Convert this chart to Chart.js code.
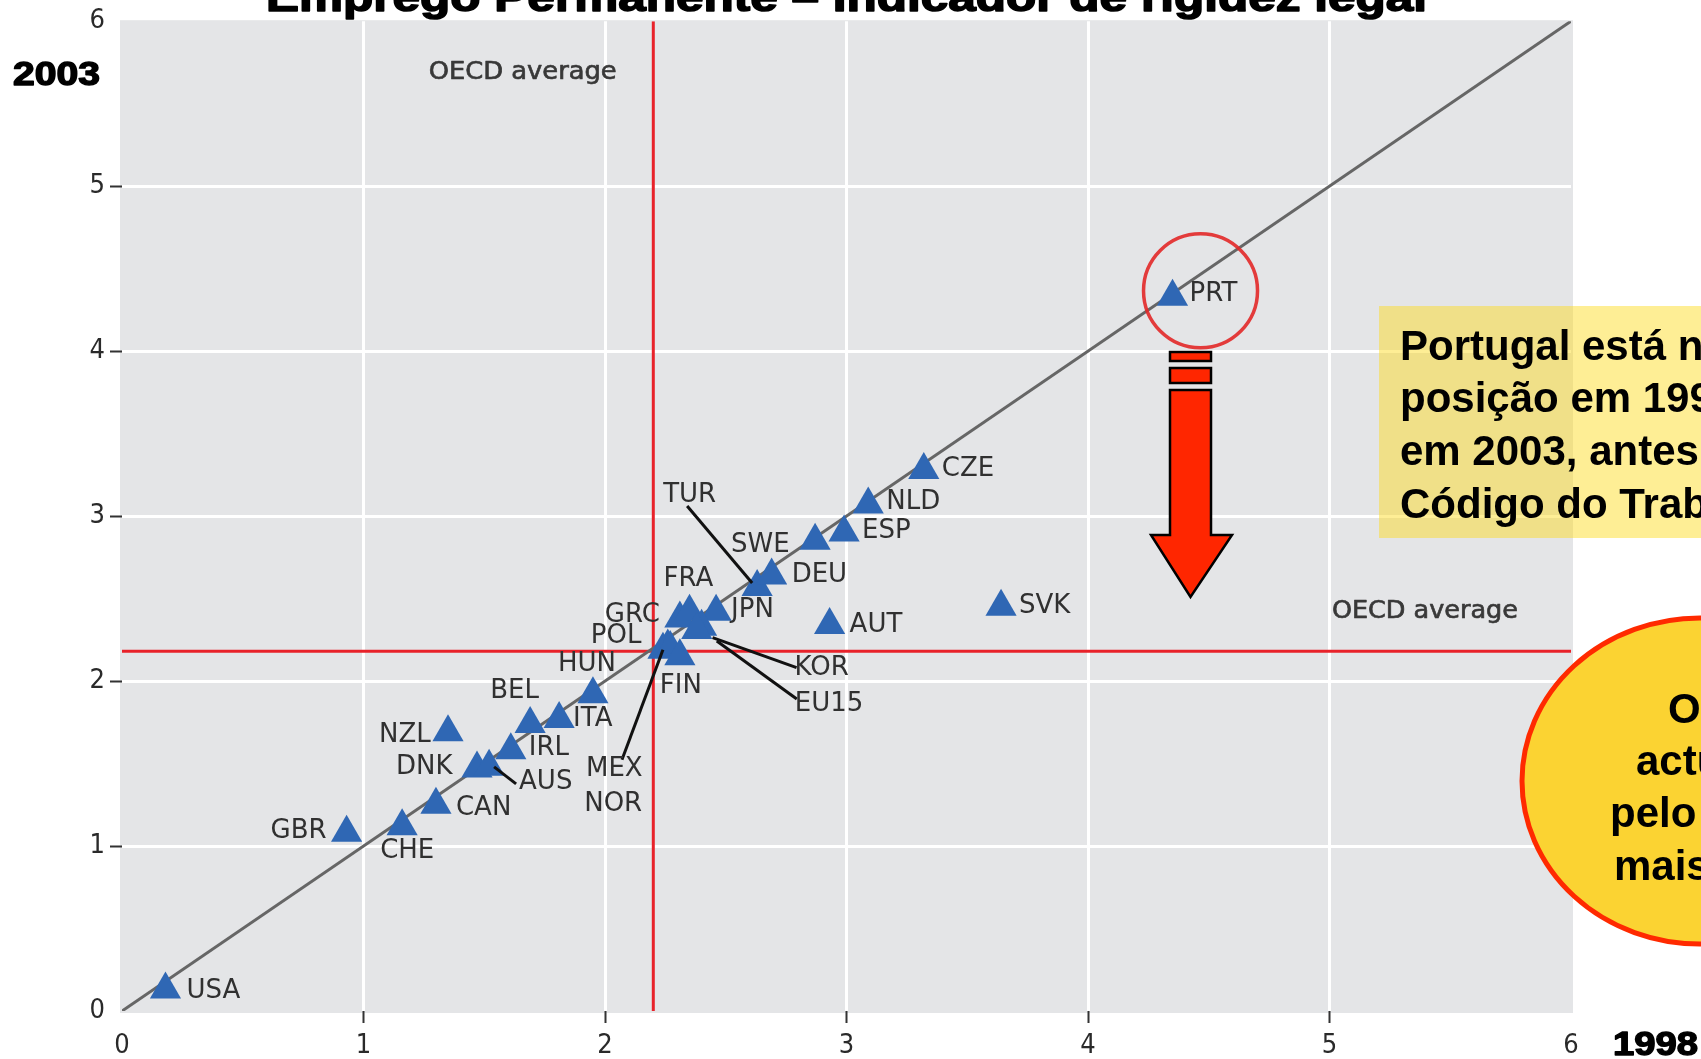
<!DOCTYPE html>
<html lang="pt">
<head>
<meta charset="utf-8">
<title>Emprego Permanente – Indicador de rigidez legal</title>
<script src="https://cdn.jsdelivr.net/npm/chart.js@4.4.1/dist/chart.umd.min.js"></script>
<style>
    html, body { margin: 0; padding: 0; background: #fff; overflow: hidden; }
    #chart { display: block; }
</style>
</head>
<body>
<canvas id="chart" width="1701" height="1059"></canvas>
<script>
// valores (1998 no eixo x, 2003 no eixo y)
const countries = ['USA', 'GBR', 'CHE', 'CAN', 'DNK', 'AUS', 'IRL', 'NZL', 'BEL', 'ITA',
    'HUN', 'POL', 'MEX', 'NOR', 'FIN', 'GRC', 'FRA', 'JPN', 'KOR', 'EU15',
    'TUR', 'DEU', 'SWE', 'ESP', 'NLD', 'CZE', 'AUT', 'SVK', 'PRT'];
const index1998 = [0.18, 0.93, 1.16, 1.30, 1.47, 1.52, 1.61, 1.35, 1.69, 1.81,
    1.95, 2.26, 2.24, 2.27, 2.31, 2.31, 2.35, 2.46, 2.40, 2.38,
    2.63, 2.69, 2.87, 2.99, 3.09, 3.32, 2.93, 3.64, 4.35];
const index2003 = [0.13, 1.08, 1.12, 1.25, 1.47, 1.48, 1.58, 1.69, 1.74, 1.77,
    1.92, 2.21, 2.19, 2.20, 2.15, 2.38, 2.42, 2.42, 2.33, 2.31,
    2.57, 2.64, 2.85, 2.90, 3.07, 3.28, 2.34, 2.45, 4.33];
const oecdAverage1998 = 2.2;
const oecdAverage2003 = 2.18;
const axisMin = 0;
const axisMax = 6;

const titleText = 'Emprego Permanente – Indicador de rigidez legal';
const boxLines = ['Portugal está na mesma', 'posição em 1998 e', 'em 2003, antes do', 'Código do Trabalho'];
const ellipseLines = ['O Código', 'actual é', 'pelo menos', 'mais rígido'];

// posição dos rótulos em relação ao triângulo (px)
const labelOffsets = {
    USA: [21, 2], GBR: [-76, -2], CHE: [-22, 25], CAN: [20, 3], DNK: [-81, -1],
    AUS: [30, 15], IRL: [18, -2], NZL: [-69, 3], BEL: [-40, -33], ITA: [14, 0],
    HUN: [-35, -30], POL: [-77, -10], MEX: [-77, 120], NOR: [-86, 156], FIN: [-20, 30],
    GRC: [-75, -3], FRA: [-26, -33], JPN: [15, -2], KOR: [93, 42], EU15: [98, 74],
    TUR: [-94, -92], DEU: [20, 0], SWE: [-84, 4], ESP: [18, -1], NLD: [18, -2],
    CZE: [18, -1], AUT: [20, 0], SVK: [18, -1], PRT: [17, -2]
};
// linhas de chamada: início e fim em relação ao triângulo
const leaders = {
    TUR: [-70, -81, -5, -4],
    KOR: [95, 41, 11, 11],
    EU15: [100, 69, 20, 11],
    MEX: [-41, 110, 0, 0],
    AUS: [27, 17, 5, 0]
};

const points = countries.map((c, i) => ({ x: index1998[i], y: index2003[i] }));

function fitText(c, text, x, y, width, stroke) {
    const w = c.measureText(text).width;
    c.save();
    c.translate(x, y);
    c.scale(width / w, 1);
    if (stroke) {
        c.lineWidth = stroke;
        c.strokeStyle = c.fillStyle;
        c.lineJoin = 'round';
        c.strokeText(text, 0, 0);
    }
    c.fillText(text, 0, 0);
    c.restore();
}

const plotBackground = {
    id: 'plotBackground',
    beforeDraw(chart) {
        const { ctx, chartArea } = chart;
        ctx.save();
        ctx.fillStyle = '#e4e5e7';
        ctx.fillRect(chartArea.left - 2, chartArea.top - 1, chartArea.width + 4, chartArea.height + 3);
        ctx.restore();
    }
};

const countryLabels = {
    id: 'countryLabels',
    afterDatasetsDraw(chart) {
        const { ctx } = chart;
        const meta = chart.getDatasetMeta(0);
        const xs = chart.scales.x;
        const ys = chart.scales.y;
        ctx.save();

        ctx.strokeStyle = '#111';
        ctx.lineWidth = 3;
        Object.keys(leaders).forEach(name => {
            const el = meta.data[countries.indexOf(name)];
            const l = leaders[name];
            ctx.beginPath();
            ctx.moveTo(el.x + l[0], el.y + l[1]);
            ctx.lineTo(el.x + l[2], el.y + l[3]);
            ctx.stroke();
        });

        ctx.fillStyle = '#303030';
        ctx.font = '26px "DejaVu Sans"';
        ctx.textBaseline = 'middle';
        ctx.textAlign = 'left';
        countries.forEach((name, i) => {
            const el = meta.data[i];
            const off = labelOffsets[name];
            ctx.fillText(name, el.x + off[0], el.y + off[1]);
        });

        ctx.font = '24px "DejaVu Sans Condensed", "DejaVu Sans"';
        ctx.fillStyle = '#383838';
        fitText(ctx, 'OECD average', xs.getPixelForValue(1.27), ys.getPixelForValue(5.69), 188, 0.6);
        fitText(ctx, 'OECD average', xs.getPixelForValue(5.01), ys.getPixelForValue(2.42), 186, 0.6);
        ctx.restore();
    }
};

const overlay = {
    id: 'overlay',
    afterDraw(chart) {
        const { ctx } = chart;
        ctx.save();

        // titulo (cortado no topo)
        ctx.fillStyle = '#000';
        ctx.textBaseline = 'alphabetic';
        ctx.textAlign = 'left';
        ctx.font = 'bold 40px "Liberation Sans", Arial, sans-serif';
        fitText(ctx, titleText, 266, 11, 1161, 1.5);

        ctx.font = 'bold 33px "Liberation Sans", Arial, sans-serif';
        fitText(ctx, '2003', 13, 85, 87, 1.4);
        fitText(ctx, '1998', 1613, 1055, 85, 1.4);

        // circulo em volta de PRT
        const prt = chart.getDatasetMeta(0).data[countries.indexOf('PRT')];
        ctx.strokeStyle = 'rgba(226, 40, 40, 0.9)';
        ctx.lineWidth = 3.5;
        ctx.beginPath();
        ctx.arc(prt.x + 28, prt.y - 6, 57, 0, Math.PI * 2);
        ctx.stroke();

        // seta vermelha
        ctx.fillStyle = '#ff2600';
        ctx.strokeStyle = '#000';
        ctx.lineWidth = 2.5;
        const ax = 1170, aw = 41;
        [[352, 9], [368, 15]].forEach(b => {
            ctx.fillRect(ax, b[0], aw, b[1]);
            ctx.strokeRect(ax, b[0], aw, b[1]);
        });
        ctx.beginPath();
        ctx.moveTo(ax, 390);
        ctx.lineTo(ax + aw, 390);
        ctx.lineTo(ax + aw, 535);
        ctx.lineTo(1232, 535);
        ctx.lineTo(1190.5, 597);
        ctx.lineTo(1151, 535);
        ctx.lineTo(ax, 535);
        ctx.closePath();
        ctx.fill();
        ctx.stroke();

        // caixa amarela
        ctx.fillStyle = 'rgba(252, 218, 30, 0.47)';
        ctx.fillRect(1379, 306, 400, 232);
        ctx.fillStyle = '#000';
        ctx.font = 'bold 42px "Liberation Sans", Arial, sans-serif';
        [360, 412, 465, 518].forEach((y, i) => ctx.fillText(boxLines[i], 1400, y));

        // elipse
        ctx.fillStyle = '#fbd332';
        ctx.strokeStyle = '#ff2a00';
        ctx.lineWidth = 5;
        ctx.beginPath();
        ctx.ellipse(1700, 781, 178, 163, 0, 0, Math.PI * 2);
        ctx.fill();
        ctx.stroke();
        ctx.fillStyle = '#000';
        const ex = [1668, 1636, 1610, 1614];
        [723, 775, 827, 880].forEach((y, i) => ctx.fillText(ellipseLines[i], ex[i], y));

        ctx.restore();
    }
};

const edgeTick = (ctx, color) => (ctx.tick.value === axisMin || ctx.tick.value === axisMax) ? 'rgba(0,0,0,0)' : color;

const ctxChart = document.getElementById('chart').getContext('2d');
new Chart(ctxChart, {
    type: 'scatter',
    data: {
        datasets: [
            {
                label: '2003 vs 1998',
                data: points,
                pointStyle: 'triangle',
                pointRadius: 18,
                backgroundColor: '#2f67b4',
                borderWidth: 0,
                order: 0
            },
            {
                type: 'line',
                data: [{ x: axisMin, y: axisMin }, { x: axisMax, y: axisMax }],
                borderColor: '#666666',
                borderWidth: 3,
                pointRadius: 0,
                order: 1
            },
            {
                type: 'line',
                data: [{ x: oecdAverage1998, y: axisMin }, { x: oecdAverage1998, y: axisMax }],
                borderColor: '#e8222a',
                borderWidth: 3,
                pointRadius: 0,
                order: 2
            },
            {
                type: 'line',
                data: [{ x: axisMin, y: oecdAverage2003 }, { x: axisMax, y: oecdAverage2003 }],
                borderColor: '#e8222a',
                borderWidth: 3,
                pointRadius: 0,
                order: 2
            }
        ]
    },
    options: {
        responsive: false,
        animation: false,
        layout: {
            padding: { left: 0, right: 130, top: 19, bottom: 0 }
        },
        plugins: {
            legend: { display: false },
            tooltip: { enabled: false }
        },
        scales: {
            x: {
                type: 'linear',
                min: axisMin,
                max: axisMax,
                ticks: {
                    stepSize: 1,
                    color: '#2a2a2a',
                    padding: 7,
                    font: { family: 'DejaVu Sans Condensed', size: 27 }
                },
                grid: {
                    color: ctx => edgeTick(ctx, '#ffffff'),
                    tickColor: ctx => edgeTick(ctx, '#333333'),
                    lineWidth: 3,
                    tickLength: 12,
                    tickWidth: 2
                },
                border: { display: false },
                afterFit(scale) { scale.height = 48; }
            },
            y: {
                type: 'linear',
                min: axisMin,
                max: axisMax,
                ticks: {
                    stepSize: 1,
                    color: '#2a2a2a',
                    padding: 5,
                    font: { family: 'DejaVu Sans Condensed', size: 27 }
                },
                grid: {
                    color: ctx => edgeTick(ctx, '#ffffff'),
                    tickColor: ctx => edgeTick(ctx, '#333333'),
                    lineWidth: 3,
                    tickLength: 12,
                    tickWidth: 2
                },
                border: { display: false },
                afterFit(scale) { scale.width = 122; }
            }
        }
    },
    plugins: [plotBackground, countryLabels, overlay]
});
</script>
</body>
</html>
